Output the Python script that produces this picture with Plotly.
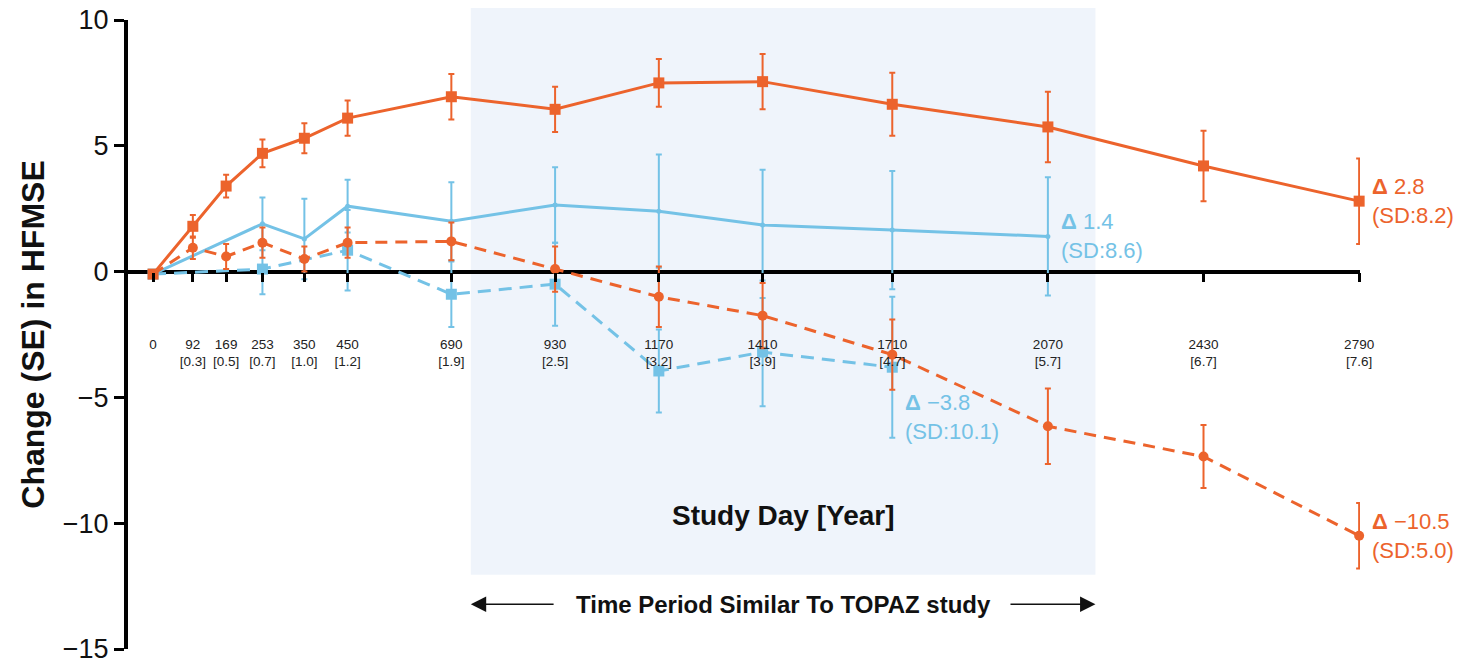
import plotly.graph_objects as go

# ---- data ---------------------------------------------------------------
study_days = [0, 92, 169, 253, 350, 450, 690, 930, 1170, 1410, 1710, 2070, 2430, 2790]
study_years = ["", "0.3", "0.5", "0.7", "1.0", "1.2", "1.9", "2.5", "3.2", "3.9", "4.7", "5.7", "6.7", "7.6"]

# orange, solid line with squares
orange_solid_days = study_days
orange_solid_mean = [-0.1, 1.8, 3.4, 4.7, 5.3, 6.1, 6.95, 6.45, 7.5, 7.55, 6.65, 5.75, 4.2, 2.8]
orange_solid_se = [0, 0.45, 0.45, 0.55, 0.6, 0.7, 0.9, 0.9, 0.95, 1.1, 1.25, 1.4, 1.4, 1.7]

# orange, dashed line with circles
orange_dashed_days = study_days
orange_dashed_mean = [-0.1, 0.95, 0.6, 1.15, 0.5, 1.15, 1.2, 0.1, -1.0, -1.75, -3.3, -6.15, -7.35, -10.5]
orange_dashed_se = [0, 0.45, 0.5, 0.6, 0.5, 0.6, 0.75, 0.9, 1.2, 1.3, 1.4, 1.5, 1.25, 1.3]

# blue, solid line
blue_solid_days = [0, 253, 350, 450, 690, 930, 1170, 1410, 1710, 2070]
blue_solid_mean = [-0.1, 1.9, 1.3, 2.6, 2.0, 2.65, 2.4, 1.85, 1.65, 1.4]
blue_solid_se = [0, 1.05, 1.6, 1.05, 1.55, 1.5, 2.25, 2.2, 2.35, 2.35]

# blue, dashed line with squares
blue_dashed_days = [0, 253, 450, 690, 930, 1170, 1410, 1710]
blue_dashed_mean = [-0.1, 0.1, 0.85, -0.9, -0.5, -3.95, -3.2, -3.8]
blue_dashed_se = [0, 1.0, 1.6, 1.3, 1.65, 1.65, 2.15, 2.8]

# standard deviations quoted next to the final change of each series
sd_orange_solid = 8.2
sd_orange_dashed = 5.0
sd_blue_solid = 8.6
sd_blue_dashed = 10.1

# TOPAZ-like window on the day axis
topaz_window = [735, 2180]

# ---- styling -------------------------------------------------------------
ORANGE = "#EC632C"
BLUE = "#74C2E6"
SHADE = "#EFF4FB"
FONT = "Liberation Sans, Arial, sans-serif"

X_RANGE = [-58, 2792]
Y_RANGE = [-15, 10]


def x_frac(d):
    return (d - X_RANGE[0]) / (X_RANGE[1] - X_RANGE[0])


def y_frac(v):
    return (v - Y_RANGE[0]) / (Y_RANGE[1] - Y_RANGE[0])


def signed(v):
    return ("\u2212" if v < 0 else "") + f"{abs(v):.1f}"


def series(x, y, se, color, dash, symbol, size):
    return go.Scatter(
        x=x, y=y,
        mode="lines+markers",
        line=dict(color=color, width=3, dash=dash),
        marker=dict(color=color, symbol=symbol, size=size),
        error_y=dict(type="data", array=se, color=color, thickness=2, width=3, visible=True),
        cliponaxis=False,
        showlegend=False,
        hoverinfo="x+y",
    )


fig = go.Figure()
fig.add_trace(series(blue_solid_days, blue_solid_mean, blue_solid_se, BLUE, "solid", "circle", 5))
fig.add_trace(series(blue_dashed_days, blue_dashed_mean, blue_dashed_se, BLUE, "13px,8px", "square", 11))
fig.add_trace(series(orange_dashed_days, orange_dashed_mean, orange_dashed_se, ORANGE, "12px,8px", "circle", 10))
fig.add_trace(series(orange_solid_days, orange_solid_mean, orange_solid_se, ORANGE, "solid", "square", 11))

# shaded study window
fig.add_shape(
    type="rect", xref="paper", yref="paper",
    x0=x_frac(topaz_window[0]), x1=x_frac(topaz_window[1]),
    y0=y_frac(-12.05), y1=1.019,
    fillcolor=SHADE, line=dict(width=0), layer="below",
)

tick_text = [f"{d}" + (f"<br>[{y}]" if y else "") for d, y in zip(study_days, study_years)]

annotations = []


def delta_label(x, y, sd, color, yshift=0):
    annotations.append(dict(
        x=x, y=y, xref="x", yref="y",
        text=f"<b>\u0394</b> {signed(y)}<br>(SD:{sd:.1f})",
        showarrow=False, xanchor="left", yanchor="middle", align="left",
        xshift=11, yshift=yshift,
        font=dict(family=FONT, size=22, color=color),
    ))


delta_label(blue_solid_days[-1], blue_solid_mean[-1], sd_blue_solid, BLUE)
delta_label(orange_solid_days[-1], orange_solid_mean[-1], sd_orange_solid, ORANGE)
delta_label(blue_dashed_days[-1], blue_dashed_mean[-1], sd_blue_dashed, BLUE, yshift=-50)
delta_label(orange_dashed_days[-1], orange_dashed_mean[-1], sd_orange_dashed, ORANGE)

mid_window = (topaz_window[0] + topaz_window[1]) / 2
annotations.append(dict(
    x=mid_window, y=-9.7, xref="x", yref="y",
    text="<b>Study Day [Year]</b>", showarrow=False,
    font=dict(family=FONT, size=28, color="#111111"),
))
arrow_y = -13.22
annotations.append(dict(
    x=mid_window, y=arrow_y, xref="x", yref="y",
    text="<b>Time Period Similar To TOPAZ study</b>", showarrow=False,
    font=dict(family=FONT, size=24, color="#111111"),
))
for head, tail in ((topaz_window[0], topaz_window[0] + 195), (topaz_window[1], topaz_window[1] - 200)):
    annotations.append(dict(
        x=head, y=arrow_y, ax=tail, ay=arrow_y,
        xref="x", yref="y", axref="x", ayref="y",
        text="", showarrow=True, arrowhead=2, arrowsize=2.2, arrowwidth=1.4,
        arrowcolor="#111111", standoff=0,
    ))

fig.update_layout(
    width=1459, height=665,
    margin=dict(l=128, r=99, t=20, b=16, autoexpand=False),
    paper_bgcolor="white", plot_bgcolor="rgba(0,0,0,0)",
    font=dict(family=FONT, color="#111111"),
    annotations=annotations,
    xaxis=dict(
        range=X_RANGE, anchor="free", position=y_frac(0), automargin=False,
        showgrid=False, zeroline=False, showline=False,
        tickmode="array", tickvals=study_days, ticktext=tick_text,
        ticks="outside", ticklen=9, tickwidth=3, tickcolor="black",
        ticklabelstandoff=51,
        tickfont=dict(family=FONT, size=13.5, color="#222222"),
    ),
    yaxis=dict(
        range=Y_RANGE, showgrid=False, automargin=False,
        zeroline=True, zerolinewidth=4, zerolinecolor="black",
        showline=True, linewidth=4, linecolor="black",
        tickmode="array", tickvals=[-15, -10, -5, 0, 5, 10],
        ticks="outside", ticklen=10, tickwidth=3, tickcolor="black",
        ticklabeloverflow="allow",
        tickfont=dict(family=FONT, size=27, color="#111111"),
        title=dict(text="<b>Change (SE) in HFMSE</b>", standoff=10,
                   font=dict(family=FONT, size=32, color="#111111")),
    ),
)

fig.write_html("out.html")
